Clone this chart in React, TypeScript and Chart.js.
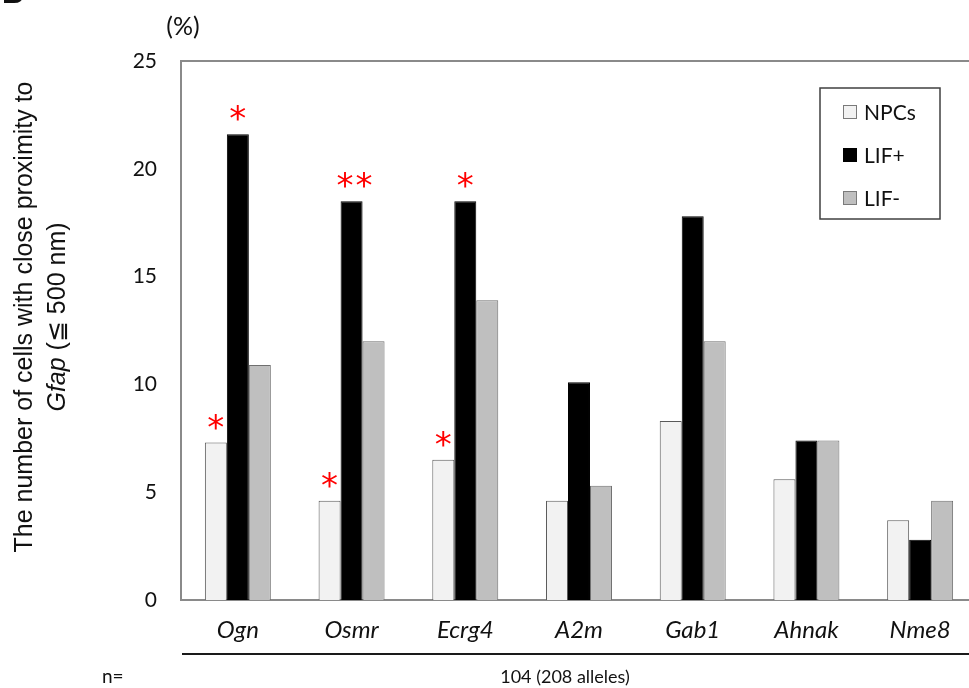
import React, { useEffect, useRef } from "react";
import { Chart, registerables } from "chart.js";

Chart.register(...registerables);

const categories = ["Ogn", "Osmr", "Ecrg4", "A2m", "Gab1", "Ahnak", "Nme8"];
const seriesNames = ["NPCs", "LIF+", "LIF-"];
const npcs = [7.3, 4.6, 6.5, 4.6, 8.3, 5.6, 3.7];
const lifPlus = [21.6, 18.5, 18.5, 10.1, 17.8, 7.4, 2.8];
const lifMinus = [10.9, 12.0, 13.9, 5.3, 12.0, 7.4, 4.6];
const npcsMarks = ["*", "*", "*", "", "", "", ""];
const lifPlusMarks = ["*", "**", "*", "", "", "", ""];
const lifMinusMarks = ["", "", "", "", "", "", ""];
const yTicks = [0, 5, 10, 15, 20, 25];
const yTitle1 = "The number of cells with close proximity to";
const yTitle2Italic = "Gfap";
const yTitle2Rest = " (\u2266 500 nm)";
const unitLabel = "(%)";
const nLabel = "n=";
const nValue = "104 (208 alleles)";
const panelLetter = "B";

const fills = ["#f2f2f2", "#000000", "#bfbfbf"];
const borders = ["#595959", "#000000", "#6f6f6f"];
const CAL = "Lato, 'Open Sans', sans-serif";
const ARIAL = "'Liberation Sans', Arial, sans-serif";

const overlay = {
  id: "overlay",
  afterDraw(chart: any) {
    const ctx = chart.ctx as CanvasRenderingContext2D;
    const ca = chart.chartArea;
    ctx.save();
    // top border
    ctx.strokeStyle = "#8a8a8a";
    ctx.lineWidth = 2;
    ctx.beginPath();
    ctx.moveTo(ca.left - 1, ca.top);
    ctx.lineTo(chart.width, ca.top);
    ctx.stroke();

    // line under category labels
    ctx.strokeStyle = "#1a1a1a";
    ctx.lineWidth = 2;
    ctx.beginPath();
    ctx.moveTo(182, 654);
    ctx.lineTo(chart.width, 654);
    ctx.stroke();

    // texts
    ctx.fillStyle = "#111";
    ctx.font = `25px ${CAL}`;
    ctx.textAlign = "center";
    ctx.textBaseline = "middle";
    ctx.fillText(unitLabel, 183, 27);
    ctx.font = `19px ${CAL}`;
    ctx.textAlign = "left";
    ctx.fillText(nLabel, 102, 677);
    ctx.font = `18px ${CAL}`;
    ctx.textAlign = "center";
    ctx.fillText(nValue, 565, 677);
    ctx.font = `bold 30px ${ARIAL}`;
    ctx.textBaseline = "alphabetic";
    ctx.textAlign = "left";
    ctx.fillText(panelLetter, 2, 3);

    // y title
    ctx.save();
    ctx.translate(0, 317);
    ctx.rotate(-Math.PI / 2);
    ctx.fillStyle = "#111";
    ctx.textBaseline = "middle";
    ctx.textAlign = "center";
    ctx.font = `25px ${ARIAL}`;
    ctx.fillText(yTitle1, 0, 25);
    ctx.font = `italic 25px ${ARIAL}`;
    const w1 = ctx.measureText(yTitle2Italic).width;
    ctx.font = `25px ${ARIAL}`;
    const w2 = ctx.measureText(yTitle2Rest).width;
    const start = -(w1 + w2) / 2;
    ctx.textAlign = "left";
    ctx.font = `italic 25px ${ARIAL}`;
    ctx.fillText(yTitle2Italic, start, 58);
    ctx.font = `25px ${ARIAL}`;
    ctx.fillText(yTitle2Rest, start + w1, 58);
    ctx.restore();

    // asterisks
    const marks = [npcsMarks, lifPlusMarks, lifMinusMarks];
    ctx.fillStyle = "#ff0000";
    ctx.font = `34px 'DejaVu Sans', sans-serif`;
    ctx.textAlign = "center";
    ctx.textBaseline = "alphabetic";
    const m = ctx.measureText("*");
    const off = (m.actualBoundingBoxAscent - m.actualBoundingBoxDescent) / 2;
    marks.forEach((arr, di) => {
      const meta = chart.getDatasetMeta(di);
      arr.forEach((s: string, i: number) => {
        if (!s) return;
        const bar = meta.data[i];
        const cy = bar.y - 21;
        const n = s.length;
        for (let k = 0; k < n; k++) {
          const cx = bar.x + (k - (n - 1) / 2) * 19 + (n > 1 ? 3 : 0);
          ctx.fillText("*", cx, cy + off);
        }
      });
    });

    // legend
    ctx.strokeStyle = "#404040";
    ctx.lineWidth = 1.5;
    ctx.strokeRect(820, 88, 120, 131);
    const ys = [112, 155, 198];
    ctx.font = `21px ${CAL}`;
    ctx.textAlign = "left";
    ctx.textBaseline = "middle";
    seriesNames.forEach((name, i) => {
      ctx.fillStyle = fills[i];
      ctx.fillRect(843, ys[i] - 7, 14, 14);
      ctx.strokeStyle = borders[i] === "#000000" ? "#000" : "#7a7a7a";
      ctx.lineWidth = 1;
      ctx.strokeRect(843.5, ys[i] - 6.5, 13, 13);
      ctx.fillStyle = "#111";
      ctx.fillText(name, 864, ys[i] + 1);
    });
    ctx.restore();
  },
};

export default function App() {
  const ref = useRef<HTMLCanvasElement | null>(null);
  useEffect(() => {
    if (!ref.current) return;
    const data = [npcs, lifPlus, lifMinus];
    const chart = new Chart(ref.current, {
      type: "bar",
      data: {
        labels: categories,
        datasets: seriesNames.map((name, i) => ({
          label: name,
          data: data[i],
          backgroundColor: fills[i],
          borderColor: borders[i],
          borderWidth: 1,
          barPercentage: 1,
          categoryPercentage: 0.58,
        })),
      },
      options: {
        animation: false,
        responsive: false,
        maintainAspectRatio: false,
        layout: { padding: { left: 0, top: 61, right: 23, bottom: 0 } },
        plugins: { legend: { display: false }, tooltip: { enabled: false } },
        scales: {
          x: {
            grid: { display: false, drawTicks: false },
            border: { display: true, color: "#8a8a8a", width: 2 },
            ticks: {
              color: "#111",
              padding: 16,
              font: { family: CAL, size: 24, style: "italic" },
            },
            afterFit: (s: any) => {
              s.height = 88;
            },
          },
          y: {
            min: 0,
            max: 25,
            afterBuildTicks: (s: any) => {
              s.ticks = yTicks.map((v) => ({ value: v }));
            },
            grid: { display: false, drawTicks: false },
            border: { display: true, color: "#8a8a8a", width: 2 },
            ticks: {
              color: "#111",
              padding: 24,
              font: { family: CAL, size: 21 },
            },
            afterFit: (s: any) => {
              s.width = 181;
            },
          },
        },
      },
      plugins: [overlay],
    });
    return () => chart.destroy();
  }, []);
  return (
    <div
      style={{
        position: "absolute",
        left: 0,
        top: 0,
        width: 969,
        height: 688,
        overflow: "hidden",
        background: "#fff",
      }}
    >
      <canvas ref={ref} width={1000} height={688} style={{ display: "block" }} />
    </div>
  );
}
